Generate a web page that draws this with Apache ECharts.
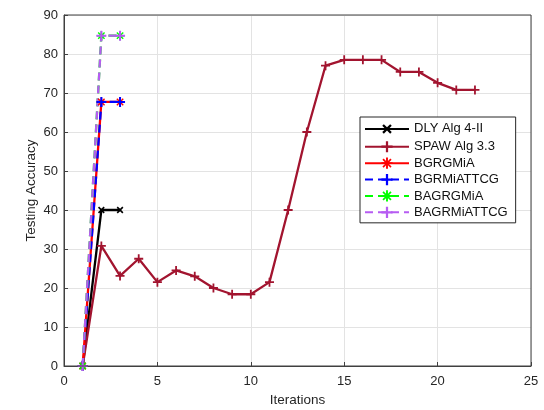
<!DOCTYPE html>
<html>
<head>
<meta charset="utf-8">
<script src="https://cdn.jsdelivr.net/npm/echarts@6/dist/echarts.min.js"></script>
<style>html,body{margin:0;padding:0;background:#fff}#c{width:544px;height:410px}</style>
</head>
<body>
<div id="c"></div>
<script>
// Iteration indices
const itersShort = [1, 2, 3];
const itersSpaw = [1, 2, 3, 4, 5, 6, 7, 8, 9, 10, 11, 12, 13, 14, 15, 16, 17, 18, 19, 20, 21, 22];

// Testing accuracy per algorithm
const dlyAlg4 = [0, 40, 40];
const spawAlg33 = [0, 30.8, 23.1, 27.5, 21.5, 24.5, 23, 20, 18.4, 18.4, 21.5, 40, 60, 77, 78.5, 78.5, 78.5, 75.4, 75.4, 72.6, 70.8, 70.8];
const bgrgmia = [0, 67.7, 67.7];
const bgrmiattcg = [0, 67.7, 67.7];
const bagrgmia = [0, 84.7, 84.7];
const bagrmiattcg = [0, 84.7, 84.7];

const xTicks = [0, 5, 10, 15, 20, 25];
const yTicks = [0, 10, 20, 30, 40, 50, 60, 70, 80, 90];

const PLUS = 'path://M-0.2,-1H0.2V-0.2H1V0.2H0.2V1H-0.2V0.2H-1V-0.2H-0.2Z';
const STAR = 'path://M-0.17,-1H0.17V-0.17H1V0.17H0.17V1H-0.17V0.17H-1V-0.17H-0.17Z' +
  'M-0.82,-0.6L-0.6,-0.82L0,-0.22L0.6,-0.82L0.82,-0.6L0.22,0L0.82,0.6L0.6,0.82L0,0.22L-0.6,0.82L-0.82,0.6L-0.22,0Z';

function pairs(xs, ys) { return xs.map((x, i) => [x, ys[i]]); }

function mk(name, xs, ys, color, symbol, rot, dashed, size) {
  return {
    name: name,
    type: 'line',
    data: pairs(xs, ys),
    symbol: symbol,
    symbolRotate: rot,
    symbolSize: size,
    showAllSymbol: true,
    lineStyle: { color: color, width: 2.3, type: dashed ? [8, 5] : 'solid' },
    itemStyle: { color: color },
    emphasis: { disabled: true },
    animation: false
  };
}

const chart = echarts.init(document.getElementById('c'), null, { renderer: 'canvas' });
const font = 'Liberation Sans, Arial, Helvetica, sans-serif';
const axisCol = '#404040';
const textCol = '#262626';
chart.setOption({
  backgroundColor: '#fff',
  animation: false,
  grid: { left: 64, right: 13, top: 15, bottom: 44, show: false, containLabel: false, outerBoundsMode: 'none' },
  xAxis: {
    type: 'value', min: 0, max: 25, interval: 5,
    name: 'Iterations', nameLocation: 'middle', nameGap: 27, nameMoveOverlap: false,
    nameTextStyle: { color: textCol, fontSize: 13.5, fontFamily: font },
    axisLine: { show: true, lineStyle: { color: axisCol, width: 1 } },
    axisTick: { show: true, inside: true, length: 4, lineStyle: { color: axisCol } },
    axisLabel: { color: textCol, fontSize: 13, fontFamily: font, margin: 9 },
    splitLine: { show: true, lineStyle: { color: '#e3e3e3', width: 1 } }
  },
  yAxis: {
    type: 'value', min: 0, max: 90, interval: 10,
    name: 'Testing Accuracy', nameLocation: 'middle', nameGap: 26, nameMoveOverlap: false,
    nameTextStyle: { color: textCol, fontSize: 13.5, fontFamily: font },
    axisLine: { show: true, lineStyle: { color: axisCol, width: 1 } },
    axisTick: { show: true, inside: true, length: 4, lineStyle: { color: axisCol } },
    axisLabel: { color: textCol, fontSize: 13, fontFamily: font, margin: 6 },
    splitLine: { show: true, lineStyle: { color: '#e3e3e3', width: 1 } }
  },
  graphic: [{
    type: 'rect', shape: { x: 64, y: 15, width: 467, height: 351 },
    style: { fill: 'none', stroke: axisCol, lineWidth: 1 }, silent: true, z: 100
  }],
  legend: {
    orient: 'vertical', left: 360, top: 117,
    backgroundColor: '#fff', borderColor: '#262626', borderWidth: 1,
    padding: [4, 8, 4, 4], itemGap: 3.4, itemWidth: 44, itemHeight: 14,
    textStyle: { color: '#111', fontSize: 13, fontFamily: font },
    data: ['DLY Alg 4-II', 'SPAW Alg 3.3', 'BGRGMiA', 'BGRMiATTCG', 'BAGRGMiA', 'BAGRMiATTCG']
  },
  series: [
    mk('DLY Alg 4-II', itersShort, dlyAlg4, '#000000', PLUS, 45, false, 8),
    mk('SPAW Alg 3.3', itersSpaw, spawAlg33, '#A2142F', PLUS, 0, false, 9),
    mk('BGRGMiA', itersShort, bgrgmia, '#FF0000', STAR, 0, false, 9),
    mk('BGRMiATTCG', itersShort, bgrmiattcg, '#0000FF', PLUS, 0, true, 10),
    mk('BAGRGMiA', itersShort, bagrgmia, '#00FF00', STAR, 0, true, 9),
    mk('BAGRMiATTCG', itersShort, bagrmiattcg, '#B65CF2', PLUS, 0, true, 10)
  ]
});
</script>
</body>
</html>
